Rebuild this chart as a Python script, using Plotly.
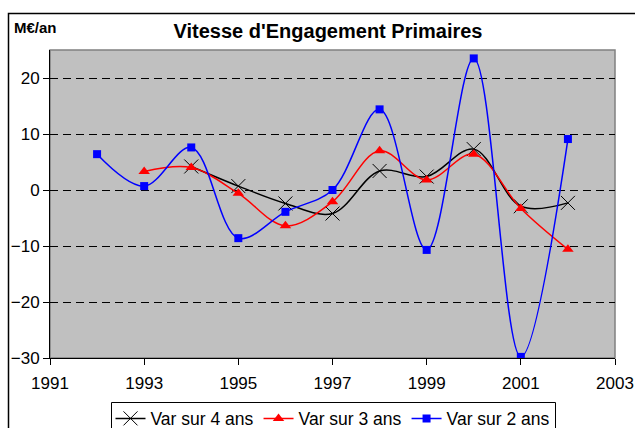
import plotly.graph_objects as go

years_4 = [1994, 1995, 1996, 1997, 1998, 1999, 2000, 2001, 2002]
var_4 = [4.2, 0.7, -2.4, -4.2, 3.4, 2.4, 7.3, -2.9, -2.3]

years_3 = [1993, 1994, 1995, 1996, 1997, 1998, 1999, 2000, 2001, 2002]
var_3 = [3.3, 4.0, -0.6, -6.4, -2.1, 7.0, 1.8, 6.4, -3.3, -10.6]

years_2 = [1992, 1993, 1994, 1995, 1996, 1997, 1998, 1999, 2000, 2001, 2002]
var_2 = [6.4, 0.7, 7.6, -8.6, -3.9, 0.0, 14.4, -10.7, 23.5, -29.8, 9.1]

x_ticks = [1991, 1993, 1995, 1997, 1999, 2001, 2003]
y_ticks = [-30, -20, -10, 0, 10, 20]

FONT = "Liberation Sans, Arial, sans-serif"
W, H = 635, 428
L, R, T, B = 50, 20, 50, 70
pw = W - L - R
ph = H - T - B

def px_x(px):
    return (px - L) / pw

def px_y(py):
    return (H - B - py) / ph

fig = go.Figure()

fig.add_trace(go.Scatter(
    x=years_4, y=var_4, name="Var sur 4 ans", mode="lines+markers",
    line=dict(color="black", width=1.5, shape="spline", smoothing=1),
    marker=dict(symbol="x-thin-open", size=14, color="black",
                line=dict(color="black", width=1)),
))
fig.add_trace(go.Scatter(
    x=years_3, y=var_3, name="Var sur 3 ans", mode="lines+markers",
    line=dict(color="#ff0000", width=1.5, shape="spline", smoothing=1),
    marker=dict(symbol="triangle-up", size=10, color="#ff0000"),
))
fig.add_trace(go.Scatter(
    x=years_2, y=var_2, name="Var sur 2 ans", mode="lines+markers",
    line=dict(color="#0000ff", width=1.5, shape="spline", smoothing=1),
    marker=dict(symbol="square", size=8, color="#0000ff"),
))

fig.update_layout(
    width=W, height=H,
    margin=dict(l=L, r=R, t=T, b=B, autoexpand=False),
    paper_bgcolor="white",
    plot_bgcolor="#c0c0c0",
    font=dict(family=FONT, size=17, color="black"),
    title=dict(text="<b>Vitesse d'Engagement Primaires</b>",
               font=dict(family=FONT, size=20, color="black"),
               x=328 / W, xref="container", xanchor="center",
               y=1 - 31 / H, yref="container", yanchor="middle"),
    showlegend=True,
    legend=dict(orientation="h", x=px_x(333), xanchor="center",
                y=px_y(400.5), yanchor="top",
                borderwidth=0, bgcolor="rgba(0,0,0,0)",
                font=dict(family=FONT, size=17.5, color="black"),
                itemwidth=30, tracegroupgap=0),
    xaxis=dict(range=[1991, 2003], tickvals=x_ticks,
               ticktext=[str(v) for v in x_ticks],
               showgrid=False, zeroline=False, automargin=False,
               showline=True, linecolor="black", linewidth=1,
               ticks="outside", ticklen=6, tickcolor="black",
               tickfont=dict(size=17), ticklabelstandoff=4),
    yaxis=dict(range=[-30, 25], tickvals=y_ticks,
               showgrid=True, gridcolor="black", gridwidth=1, griddash="8px,5px",
               zeroline=False, automargin=False,
               showline=True, linecolor="black", linewidth=1,
               ticks="outside", ticklen=6, tickcolor="black",
               tickfont=dict(size=17)),
    shapes=[
        dict(type="rect", xref="paper", yref="paper",
             x0=0, x1=1, y0=0, y1=1,
             line=dict(color="#808080", width=1.5), fillcolor="#c0c0c0",
             layer="below"),
        dict(type="rect", xref="paper", yref="paper",
             x0=px_x(8.5), x1=px_x(660), y0=px_y(13.5), y1=px_y(460),
             line=dict(color="black", width=1.5), fillcolor="rgba(0,0,0,0)",
             layer="above"),
        dict(type="rect", xref="paper", yref="paper",
             x0=px_x(111.5), x1=px_x(555.5), y0=px_y(402.5), y1=px_y(460),
             line=dict(color="black", width=1), fillcolor="white",
             layer="above"),
    ],
    annotations=[
        dict(text="<b>M€/an</b>", xref="paper", yref="paper",
             x=px_x(12), y=px_y(27), xanchor="left", yanchor="middle",
             showarrow=False, font=dict(family=FONT, size=15, color="black")),
    ],
)

fig.write_html(
    "out.html",
    config={"displayModeBar": False},
    post_script="document.documentElement.style.overflow='hidden';"
                "document.body.style.margin='0';document.body.style.overflow='hidden';",
)
